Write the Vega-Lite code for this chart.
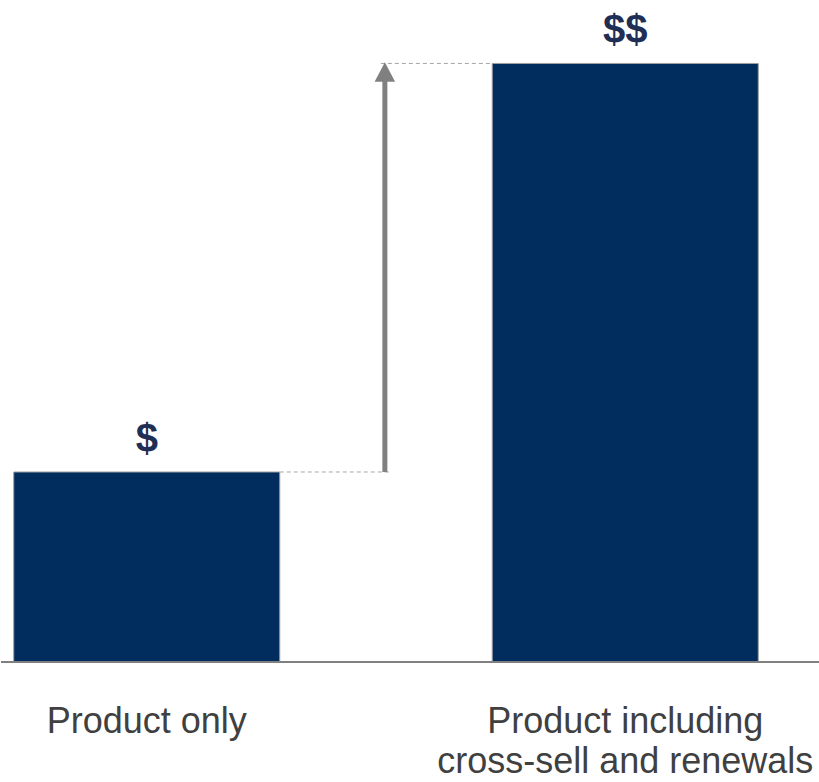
{
  "$schema": "https://vega.github.io/schema/vega-lite/v6.json",
  "width": 819,
  "height": 662,
  "padding": 0,
  "background": "white",
  "config": {"view": {"stroke": null}, "font": "Liberation Sans"},
  "data": {"values": [
    {"cat": "Product only", "value": 1, "label": "$"},
    {"cat": "Product including cross-sell and renewals", "value": 3.15, "label": "$$"}
  ]},
  "layer": [
    {
      "mark": {"type": "bar", "color": "#002D5E", "stroke": "#A0A0A0", "strokeWidth": 1},
      "encoding": {
        "x": {"field": "cat", "type": "nominal", "sort": null,
          "scale": {"range": [0, 770], "paddingInner": 0.444, "paddingOuter": 0.0266},
          "axis": {"title": null, "domain": false, "ticks": false, "labelAngle": 0,
            "labelFont": "Liberation Sans", "labelFontSize": 36, "labelColor": "#404040",
            "labelPadding": 42, "labelLineHeight": 40, "labelLimit": 1000, "labelOverlap": false,
            "labelFlush": false, "labelBound": false,
            "labelExpr": "split(replace(datum.label, ' cross', '|cross'), '|')"}},
        "y": {"field": "value", "type": "quantitative", "scale": {"domain": [0, 3.484], "nice": false}, "axis": null}
      }
    },
    {
      "mark": {"type": "rule", "color": "#808080", "strokeWidth": 2},
      "encoding": {"y": {"datum": 0, "type": "quantitative"}}
    },
    {
      "transform": [{"filter": "datum.cat == 'Product only'"}],
      "mark": {"type": "rule", "color": "#A6A6A6", "strokeWidth": 1, "strokeDash": [4, 3]},
      "encoding": {
        "x": {"datum": "Product only", "bandPosition": 1},
        "x2": {"datum": "Product only", "bandPosition": 1.42},
        "y": {"field": "value", "type": "quantitative"}
      }
    },
    {
      "transform": [{"filter": "datum.cat != 'Product only'"}],
      "mark": {"type": "rule", "color": "#A6A6A6", "strokeWidth": 1, "strokeDash": [4, 3]},
      "encoding": {
        "x": {"datum": "Product only", "bandPosition": 1.38},
        "x2": {"datum": "Product including cross-sell and renewals", "bandPosition": 0},
        "y": {"field": "value", "type": "quantitative"}
      }
    },
    {
      "transform": [{"aggregate": [{"op": "min", "field": "value", "as": "lo"}, {"op": "max", "field": "value", "as": "hi"}]}],
      "layer": [
        {
          "mark": {"type": "rule", "color": "#808080", "strokeWidth": 5, "y2Offset": 12},
          "encoding": {
            "x": {"datum": "Product only", "bandPosition": 1.395},
            "y": {"field": "lo", "type": "quantitative"},
            "y2": {"field": "hi"}
          }
        },
        {
          "mark": {"type": "point", "filled": true, "opacity": 1, "color": "#808080", "strokeWidth": 0,
            "shape": "M0,-1L1,0.9L-1,0.9Z", "size": 420, "yOffset": 9},
          "encoding": {
            "x": {"datum": "Product only", "bandPosition": 1.395},
            "y": {"field": "hi", "type": "quantitative"}
          }
        }
      ]
    },
    {
      "mark": {"type": "text", "font": "Liberation Sans", "fontWeight": "bold", "fontSize": 40,
        "color": "#1F2E55", "baseline": "alphabetic", "align": "center"},
      "encoding": {
        "x": {"field": "cat", "type": "nominal", "sort": null},
        "y": {"field": "value", "type": "quantitative"},
        "yOffset": {"condition": {"test": "datum.cat == 'Product only'", "value": -28}, "value": -20},
        "text": {"field": "label"}
      }
    }
  ]
}
